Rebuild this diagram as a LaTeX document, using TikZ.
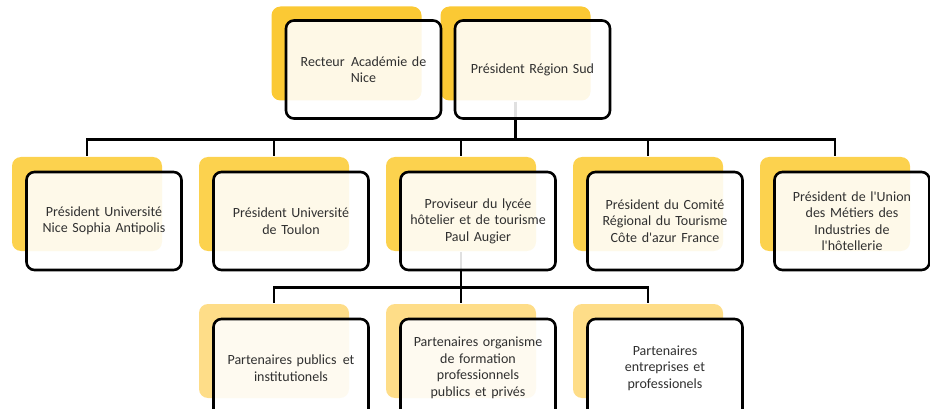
\documentclass[tikz,border=0pt]{standalone}
\usepackage{fontspec}
\setmainfont{Carlito}
\definecolor{gold}{HTML}{FBC934}
\definecolor{sun}{HTML}{FCD24E}
\definecolor{sand}{HTML}{FEDD88}
\definecolor{ink}{HTML}{303030}

\begin{document}
\begin{tikzpicture}[x=1pt, y=1pt, node distance={187pt}, line width=2.6pt,
	shade/.style = {fill=sun, rounded corners=9pt, minimum width=150pt, minimum height=94pt, inner sep=0pt},
	main/.style = {draw=black, fill=white, fill opacity=0.88, text opacity=1, rounded corners=8pt,
		minimum width=155pt, minimum height=98pt, text width=150pt, align=center, inner sep=2pt,
		text=ink, font=\fontsize{14}{16.5}\selectfont},
	link/.style = {draw=black}]
				\clip (0,0) rectangle (930,-409);

				% fonds jaunes
				\node[shade, fill=gold] (0s) at (346.5,-53.5) {};
				\node[shade, fill=gold] (1s) [right of=0s, node distance=169pt] {};

				\node[shade] (2s) at (87,-204) {};
				\node[shade] (3s) [right of=2s] {};
				\node[shade] (4s) [right of=3s] {};
				\node[shade] (5s) [right of=4s] {};
				\node[shade] (6s) [right of=5s] {};

				\node[shade, fill=sand] (7s) [below of=3s, node distance=147pt] {};
				\node[shade, fill=sand] (8s) [right of=7s] {};
				\node[shade, fill=sand] (9s) [right of=8s] {};

				% liaisons
				\draw[link] (1s.south) -- ++(0,-38) -| (2s.north);
				\draw[link] (1s.south) -- ++(0,-38) -| (3s.north);
				\draw[link] (1s.south) -- ++(0,-38) -| (4s.north);
				\draw[link] (1s.south) -- ++(0,-38) -| (5s.north);
				\draw[link] (1s.south) -- ++(0,-38) -| (6s.north);

				\draw[link] (4s.south) -- ++(0,-35) -| (7s.north);
				\draw[link] (4s.south) -- ++(0,-35) -| (8s.north);
				\draw[link] (4s.south) -- ++(0,-35) -| (9s.north);

				% cadres
				\node[main] (0) at ([shift={(17,-16)}]0s.center) {Recteur\hspace{0.45em}Académie de\\ Nice};
				\node[main] (1) at ([shift={(17,-16)}]1s.center) {Président Région Sud};

				\node[main] (2) at ([shift={(17,-17)}]2s.center) {Président Université\\ Nice Sophia Antipolis};
				\node[main] (3) at ([shift={(17,-17)}]3s.center) {Président Université\\ de Toulon};
				\node[main] (4) at ([shift={(17,-17)}]4s.center) {Proviseur du lycée\\ hôtelier et de tourisme\\ Paul Augier};
				\node[main] (5) at ([shift={(17,-17)}]5s.center) {Président du Comité\\ Régional du Tourisme\\ Côte d\textquotesingle azur France};
				\node[main] (6) at ([shift={(17,-17)}]6s.center) {Président de l\textquotesingle Union\\ des Métiers des\\ Industries de\\ l\textquotesingle hôtellerie};

				\node[main] (7) at ([shift={(17,-17)}]7s.center) {Partenaires publics\hspace{0.45em}et\\ institutionels};
				\node[main] (8) at ([shift={(17,-17)}]8s.center) {Partenaires organisme\\ de formation\\ professionnels\\ publics et privés};
				\node[main, fill opacity=1] (9) at ([shift={(17,-17)}]9s.center) {Partenaires\\ entreprises et\\ professionels};

			\end{tikzpicture}
\end{document}
